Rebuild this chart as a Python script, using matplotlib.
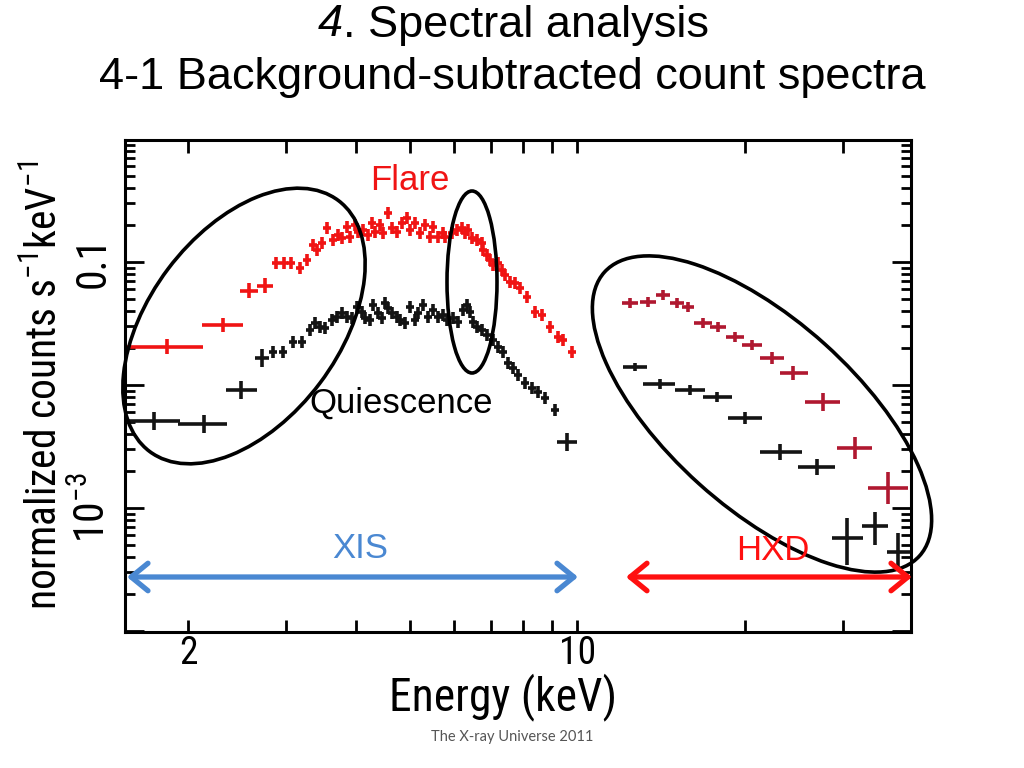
import matplotlib
matplotlib.use("Agg")
import matplotlib.pyplot as plt
from matplotlib import font_manager as fm
from matplotlib.patches import Ellipse, FancyArrowPatch
from matplotlib.transforms import Affine2D
from matplotlib.ticker import FixedLocator, NullFormatter, NullLocator
import numpy as np

plt.rcParams['font.family'] = ['Liberation Sans', 'DejaVu Sans']

# ---------------- data ----------------
# XIS flare: wide low-energy bins
flare_xis_wide_e = [1.834, 2.312, 2.574, 2.750]
flare_xis_wide_lo = [1.541, 2.119, 2.480, 2.661]
flare_xis_wide_hi = [2.128, 2.511, 2.672, 2.843]
flare_xis_wide_c = [0.02037, 0.0307, 0.0581, 0.0638]

# XIS flare: dense bins
flare_xis_e = [2.878, 2.975, 3.063, 3.179, 3.272, 3.355, 3.411, 3.482, 3.555, 3.644,
               3.720, 3.782, 3.861, 3.910, 3.991, 4.041, 4.126, 4.212, 4.282, 4.336,
               4.426, 4.482, 4.575, 4.652, 4.749, 4.848, 4.949, 5.011, 5.116, 5.223,
               5.332, 5.444, 5.512, 5.627, 5.745, 5.792, 5.962, 6.087, 6.214, 6.292,
               6.370, 6.477, 6.612, 6.750, 6.778, 6.891, 6.977, 7.064, 7.212, 7.333,
               7.424, 7.579, 7.738, 7.900, 8.131, 8.405, 8.652, 8.943, 9.244, 9.438, 9.796]
flare_xis_c = [0.0981, 0.0981, 0.0981, 0.0894, 0.1038, 0.1375, 0.1252, 0.1427, 0.1890, 0.1510,
               0.1658, 0.1567, 0.1926, 0.1597, 0.1999, 0.1754, 0.1820, 0.1658, 0.2075, 0.1754,
               0.1999, 0.1721, 0.2503, 0.1890, 0.1754, 0.2075, 0.2279, 0.1820, 0.2075, 0.1721,
               0.1999, 0.1597, 0.1926, 0.1597, 0.1721, 0.1597, 0.1721, 0.1820, 0.1890, 0.1721,
               0.1820, 0.1567, 0.1510, 0.1427, 0.1252, 0.1140, 0.1038, 0.0945, 0.0981, 0.0861,
               0.0784, 0.0688, 0.0675, 0.0615, 0.0519, 0.0392, 0.0371, 0.0296, 0.0246, 0.0232, 0.01855]

# XIS quiescence: wide bins
quies_xis_wide_e = [1.738, 2.137, 2.490, 2.716, 9.595]
quies_xis_wide_lo = [1.541, 1.919, 2.341, 2.639, 9.207]
quies_xis_wide_hi = [1.935, 2.350, 2.661, 2.796, 10.0]
quies_xis_wide_c = [0.00510, 0.00482, 0.00911, 0.01658, 0.00344]

# XIS quiescence: dense bins
quies_xis_e = [2.843, 2.963, 3.088, 3.205, 3.313, 3.382, 3.453, 3.525, 3.629, 3.705,
               3.782, 3.861, 3.942, 4.024, 4.109, 4.160, 4.247, 4.300, 4.390, 4.463,
               4.519, 4.575, 4.652, 4.749, 4.808, 4.909, 5.011, 5.116, 5.180, 5.288,
               5.399, 5.512, 5.627, 5.745, 5.840, 5.987, 6.112, 6.240, 6.344, 6.423,
               6.503, 6.612, 6.750, 6.891, 7.064, 7.212, 7.363, 7.517, 7.674, 7.834,
               8.065, 8.302, 8.510, 8.760, 9.131]
quies_xis_c = [0.01855, 0.01855, 0.02237, 0.02237, 0.0280, 0.03192, 0.0296, 0.02907, 0.03377, 0.03572,
               0.03849, 0.03572, 0.03505, 0.04307, 0.0392, 0.03505, 0.03377, 0.04471, 0.03849, 0.03505,
               0.04642, 0.04227, 0.03849, 0.03572, 0.03377, 0.03192, 0.04307, 0.03377, 0.03849, 0.04471,
               0.03572, 0.04071, 0.03572, 0.0371, 0.03377, 0.03505, 0.03252, 0.04071, 0.04471, 0.0392,
               0.03252, 0.0296, 0.0280, 0.0255, 0.0232, 0.02037, 0.01855, 0.0151, 0.01375, 0.01206,
               0.01038, 0.00946, 0.00877, 0.00784, 0.00626]

# relative error sizes of the dense XIS bins
XIS_XERR_FACTOR = 1.017
XIS_YERR_FACTOR = 1.12
WIDE_YERR_FACTOR = 1.15

# HXD flare
hxd_flare_e = [12.45, 13.42, 14.28, 15.13, 15.83, 16.84, 17.92, 19.23, 20.63, 22.41, 24.44, 27.68, 31.59, 36.22]
hxd_flare_lo = [12.05, 12.98, 13.87, 14.69, 15.44, 16.23, 17.34, 18.52, 19.79, 21.32, 23.16, 25.69, 29.32, 33.34]
hxd_flare_hi = [12.87, 13.87, 14.69, 15.57, 16.23, 17.48, 18.52, 19.96, 21.50, 23.55, 26.01, 29.69, 33.89, 39.34]
hxd_flare_c = [0.04642, 0.0473, 0.05391, 0.04642, 0.04307, 0.03192, 0.0296, 0.0246, 0.02115, 0.01658,
               0.01252, 0.00727, 0.003075, 0.001454]
hxd_flare_c_lo = [0.0423, 0.04307, 0.0491, 0.0423, 0.0392, 0.02907, 0.02697, 0.02237, 0.01925, 0.01482,
                  0.01098, 0.00615, 0.0025, 0.00108]
hxd_flare_c_hi = [0.0510, 0.0519, 0.0592, 0.0510, 0.0473, 0.03505, 0.03252, 0.02697, 0.0232, 0.01855,
                  0.01427, 0.00861, 0.00378, 0.00196]

# HXD quiescence
hxd_quies_e = [12.71, 14.10, 15.96, 17.85, 20.04, 23.16, 27.00, 30.56, 34.32, 37.74]
hxd_quies_lo = [12.10, 13.14, 15.00, 16.84, 18.68, 21.32, 24.96, 28.72, 32.52, 36.06]
hxd_quies_hi = [13.36, 15.00, 16.98, 18.99, 21.50, 25.37, 29.08, 32.66, 36.22, 39.66]
hxd_quies_c = [0.01401, 0.01019, 0.009107, 0.00799, 0.00539, 0.002853, 0.002155, 0.000570, 0.000714, 0.000439]
hxd_quies_c_lo = [0.0130, 0.00928, 0.00829, 0.00727, 0.00482, 0.00246, 0.00186, 0.000344, 0.000500, 0.000313]
hxd_quies_c_hi = [0.0151, 0.01119, 0.0100, 0.00877, 0.00603, 0.00331, 0.0025, 0.000829, 0.000928, 0.000626]

x_tick_vals = [2, 10]
x_tick_labels = ['2', '10']
y_major_vals = [1e-4, 1e-3, 1e-2, 1e-1, 1.0]
y_major_labels = ['', r'$10^{-3}$', '', '0.1', '']

# ---------------- colours ----------------
RED = '#F01414'
DARKRED = '#B01830'
BLACK = '#141414'
BLUE = '#4A88D2'
HXDRED = '#FF1010'

# ---------------- narrow font lookup ----------------
narrow_path = None
pref = ['Liberation Sans Narrow', 'Roboto Condensed', 'Open Sans Condensed', 'Noto Sans Condensed']
for want in pref:
    for f in fm.fontManager.ttflist:
        if f.name == want and f.style == 'normal' and f.weight in (400, 'normal', 'regular'):
            narrow_path = f.fname
            break
    if narrow_path:
        break
if narrow_path is None:
    for f in fm.fontManager.ttflist:
        if f.stretch in ('condensed', 'semi-condensed') and f.style == 'normal' and \
                f.weight in (400, 'normal', 'regular') and 'Mono' not in f.name and 'Serif' not in f.name:
            narrow_path = f.fname
            break
if narrow_path is None:
    narrow_family = 'Liberation Sans'
else:
    fm.fontManager.addfont(narrow_path)
    narrow_family = fm.FontProperties(fname=narrow_path).get_name()

plt.rcParams['mathtext.fontset'] = 'custom'
plt.rcParams['mathtext.rm'] = narrow_family
plt.rcParams['mathtext.it'] = narrow_family + ':italic'

# ---------------- figure ----------------
fig = plt.figure(figsize=(10.24, 7.68), dpi=100)
W, H = 1024, 768
AX_L, AX_R, AX_T, AX_B = 125, 911, 140, 632
ax = fig.add_axes([AX_L / W, 1 - AX_B / H, (AX_R - AX_L) / W, (AX_B - AX_T) / H])
ax.set_xscale('log')
ax.set_yscale('log')
ax.set_xlim(1.541, 39.8)
ax.set_ylim(9.8e-5, 0.98)


def sym_err(vals, lo, hi):
    v = np.asarray(vals)
    return np.vstack([v - np.asarray(lo), np.asarray(hi) - v])


def fac_err(vals, f):
    v = np.asarray(vals)
    return np.vstack([v - v / f, v * f - v])


ekw = dict(fmt='none', capsize=0, elinewidth=2.6)
ax.errorbar(flare_xis_wide_e, flare_xis_wide_c,
            xerr=sym_err(flare_xis_wide_e, flare_xis_wide_lo, flare_xis_wide_hi),
            yerr=fac_err(flare_xis_wide_c, WIDE_YERR_FACTOR), ecolor=RED, **ekw)
ax.errorbar(flare_xis_e, flare_xis_c,
            xerr=fac_err(flare_xis_e, XIS_XERR_FACTOR),
            yerr=fac_err(flare_xis_c, XIS_YERR_FACTOR), ecolor=RED, **ekw)
ax.errorbar(quies_xis_wide_e, quies_xis_wide_c,
            xerr=sym_err(quies_xis_wide_e, quies_xis_wide_lo, quies_xis_wide_hi),
            yerr=fac_err(quies_xis_wide_c, 1.19), ecolor=BLACK, **ekw)
ax.errorbar(quies_xis_e, quies_xis_c,
            xerr=fac_err(quies_xis_e, XIS_XERR_FACTOR),
            yerr=fac_err(quies_xis_c, XIS_YERR_FACTOR), ecolor=BLACK, **ekw)
ax.errorbar(hxd_flare_e, hxd_flare_c,
            xerr=sym_err(hxd_flare_e, hxd_flare_lo, hxd_flare_hi),
            yerr=sym_err(hxd_flare_c, hxd_flare_c_lo, hxd_flare_c_hi), ecolor=DARKRED, **ekw)
ax.errorbar(hxd_quies_e, hxd_quies_c,
            xerr=sym_err(hxd_quies_e, hxd_quies_lo, hxd_quies_hi),
            yerr=sym_err(hxd_quies_c, hxd_quies_c_lo, hxd_quies_c_hi), ecolor=BLACK, **ekw)

# ---------------- axes styling ----------------
for s in ax.spines.values():
    s.set_linewidth(2.2)
    s.set_color('black')
ax.xaxis.set_major_locator(FixedLocator(x_tick_vals + [3, 4, 5, 6, 7, 8, 9, 20, 30]))
ax.set_xticklabels(x_tick_labels + [''] * 9)
ax.xaxis.set_minor_locator(NullLocator())
ax.yaxis.set_major_locator(FixedLocator(y_major_vals))
ax.set_yticklabels(y_major_labels)
ax.yaxis.set_minor_locator(FixedLocator([m * 10.0 ** k for k in range(-4, 0) for m in range(2, 10)]))
ax.yaxis.set_minor_formatter(NullFormatter())
ax.tick_params(axis='both', which='both', direction='in', top=True, right=True, width=2.0, colors='black')
ax.tick_params(axis='x', which='major', length=9, pad=2, labelsize=27)
ax.tick_params(axis='y', which='major', length=14, pad=8, labelsize=30)
ax.tick_params(axis='y', which='minor', length=7)
for lab in ax.get_yticklabels():
    lab.set_rotation(90)
    lab.set_va('center')
for lab in ax.get_xticklabels() + ax.get_yticklabels():
    lab.set_family(narrow_family)

xl = ax.set_xlabel('Energy (keV)', fontsize=36, family=narrow_family, va='center')
ax.xaxis.set_label_coords((503 - AX_L) / (AX_R - AX_L), -(697 - AX_B) / (AX_B - AX_T))
yl = ax.set_ylabel(r'normalized counts s$^{-1}$keV$^{-1}$', fontsize=32, family=narrow_family, va='center')
ax.yaxis.set_label_coords((45 - AX_L) / (AX_R - AX_L), (AX_B - 385) / (AX_B - AX_T))

# ---------------- annotations (image pixel coords) ----------------
pix = Affine2D().scale(1 / W, -1 / H).translate(0, 1) + fig.transFigure

t_num = fig.text(0, 1 - 25 / H, '4', ha='left', va='center', fontsize=32.5, style='italic')
t_rest = fig.text(0, 1 - 25 / H, '. Spectral analysis', ha='left', va='center', fontsize=32.5)
fig.text(512 / W, 1 - 78 / H, '4-1 Background-subtracted count spectra', ha='center', va='center', fontsize=32.5)
fig.text(512 / W, 1 - 737 / H, 'The X-ray Universe 2011', ha='center', va='center', fontsize=10.5,
         color='#555555', family=['Lato', 'DejaVu Sans'])

fig.text(410 / W, 1 - 180 / H, 'Flare', ha='center', va='center', fontsize=25, color=RED)
fig.text(401 / W, 1 - 403 / H, 'Quiescence', ha='center', va='center', fontsize=25, color='black')
fig.text(360 / W, 1 - 549 / H, 'XIS', ha='center', va='center', fontsize=25, color=BLUE)
fig.text(773 / W, 1 - 551 / H, 'HXD', ha='center', va='center', fontsize=25, color=HXDRED)

for (cx, cy, w, h, ang) in [(244, 326, 314, 190, -53), (472, 282, 50, 182, 0), (762, 414, 424, 188, 42)]:
    e = Ellipse((cx, cy), w, h, angle=ang, transform=pix, fill=False, lw=2.6, ec='black', clip_on=False)
    fig.add_artist(e)

for (x0, x1, col) in [(127, 578, BLUE), (626, 912, HXDRED)]:
    a = FancyArrowPatch((x0, 577), (x1, 577), transform=pix,
                        arrowstyle='<->,head_length=0.55,head_width=0.45', mutation_scale=22,
                        lw=3.8, color=col, shrinkA=0, shrinkB=0, clip_on=False)
    fig.add_artist(a)

# fit text sizes to the reference extents
fig.canvas.draw()
r = fig.canvas.get_renderer()
bx = xl.get_window_extent(r)
xl.set_fontsize(36 * 228.0 / bx.width)
by = yl.get_window_extent(r)
yl.set_fontsize(32 * 450.0 / by.height)
fig.canvas.draw()
w1 = t_num.get_window_extent(r).width
w2 = t_rest.get_window_extent(r).width
start = 513 - (w1 + w2) / 2
t_num.set_x(start / W)
t_rest.set_x((start + w1) / W)

fig.savefig('out.png', dpi=100)
